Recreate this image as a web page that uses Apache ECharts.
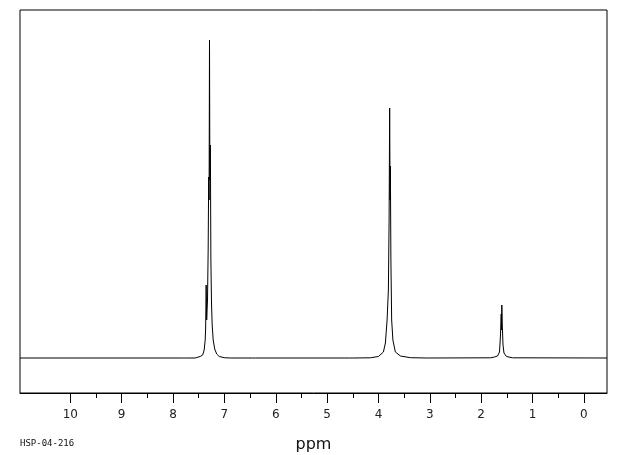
<!DOCTYPE html>
<html>
<head>
<meta charset="utf-8">
<script src="https://cdn.jsdelivr.net/npm/echarts@6/dist/echarts.min.js"></script>
<style>html,body{margin:0;padding:0;background:#fff}#c{width:620px;height:455px}</style>
</head>
<body>
<div id="c"></div>
<script>
// Chemical shift (ppm) and relative intensity
const ppm = [
  10.98, 7.82, 7.79, 7.76,
  7.569, 7.472, 7.423, 7.394, 7.374, 7.365, 7.355, 7.345, 7.329, 7.316, 7.306, 7.298, 7.290, 7.283, 7.273, 7.263, 7.251, 7.238, 7.218, 7.189, 7.150, 7.101, 7.004, 6.887,
  6.45, 6.42, 6.39,
  4.56, 4.53, 4.50,
  4.158, 4.002, 3.904, 3.865, 3.832, 3.807, 3.793, 3.782, 3.774, 3.768, 3.758, 3.743, 3.719, 3.671, 3.573, 3.378,
  3.06, 3.03, 3.00,
  1.819, 1.741, 1.682, 1.643, 1.624, 1.610, 1.604, 1.598, 1.589, 1.575, 1.556, 1.507, 1.390,
  -0.45
];
const intensity = [
  0, 0, 1.5, 0,
  0, 1.5, 3, 8, 18, 30, 73, 38, 58, 108, 181, 158, 318, 178, 213, 98, 55, 33, 18, 9, 4, 1.5, 0.3, 0,
  0, 1.5, 0,
  0, 1.5, 0,
  0.2, 1.5, 6, 15, 38, 68, 138, 250, 158, 192, 98, 38, 18, 6, 2, 0.3,
  0, 1.5, 0,
  0.2, 1, 2, 6, 23, 44, 28, 53, 33, 13, 5, 1.5, 0.2,
  0
];
const majorTicks = [10, 9, 8, 7, 6, 5, 4, 3, 2, 1, 0];
const minorTicks = [9.5, 8.5, 7.5, 6.5, 5.5, 4.5, 3.5, 2.5, 1.5, 0.5];
const xName = 'ppm';
const footnote = 'HSP-04-216';

const data = ppm.map((p, i) => [p, intensity[i]]);
const X_MIN = -0.45, X_MAX = 10.98;

const chart = echarts.init(document.getElementById('c'), null, {renderer: 'canvas'});
chart.setOption({
  animation: false,
  backgroundColor: '#fff',
  grid: {left: 20, right: 13, top: 10, bottom: 62, containLabel: false, outerBoundsMode: 'none',
         show: true, borderColor: '#000', borderWidth: 1, backgroundColor: 'transparent'},
  xAxis: [
    {
      type: 'value', min: X_MIN, max: X_MAX, inverse: true, position: 'bottom',
      name: xName, nameLocation: 'middle', nameGap: 44,
      nameTextStyle: {color: '#111', fontSize: 16, fontFamily: 'DejaVu Sans'},
      axisLine: {show: true, onZero: false, lineStyle: {color: '#000', width: 1}},
      axisTick: {show: true, inside: false, length: 10, customValues: majorTicks, lineStyle: {color: '#000', width: 1}},
      axisLabel: {show: true, customValues: majorTicks, margin: 16, color: '#222', fontSize: 12, fontFamily: 'DejaVu Sans'},
      splitLine: {show: false}
    },
    {
      type: 'value', min: X_MIN, max: X_MAX, inverse: true, position: 'bottom',
      axisLine: {show: false, onZero: false},
      axisTick: {show: true, inside: false, length: 5, customValues: minorTicks, lineStyle: {color: '#000', width: 1}},
      axisLabel: {show: false},
      splitLine: {show: false}
    }
  ],
  yAxis: {type: 'value', min: -35, max: 348, show: false, splitLine: {show: false}},
  graphic: [{
    type: 'text', left: 20, top: 439,
    style: {text: footnote, fill: '#111', fontSize: 9, fontFamily: 'DejaVu Sans Mono'}
  }],
  series: [{
    type: 'line', xAxisIndex: 0, data: data, showSymbol: false, symbol: 'none',
    lineStyle: {color: '#000', width: 1}, smooth: false, silent: true
  }]
});
</script>
</body>
</html>
